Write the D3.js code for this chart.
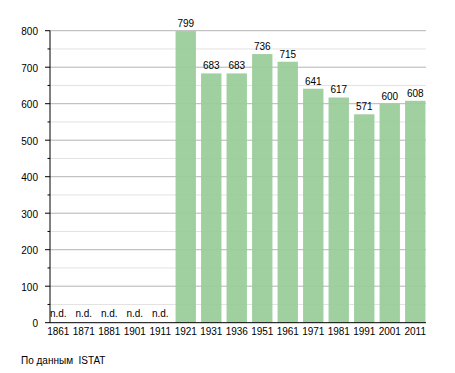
<!DOCTYPE html>
<html>
<head>
<meta charset="utf-8">
<script src="https://cdn.jsdelivr.net/npm/d3@7"></script>
<style>
  body { margin: 0; background: #fff; }
  text { font-family: "Liberation Sans", Arial, sans-serif; font-size: 10px; fill: #000; }
</style>
</head>
<body>
<script>
// population by census year, null = no data
const years = ["1861", "1871", "1881", "1901", "1911", "1921", "1931", "1936", "1951", "1961", "1971", "1981", "1991", "2001", "2011"];
const population = [null, null, null, null, null, 799, 683, 683, 736, 715, 641, 617, 571, 600, 608];
const yTicks = [0, 100, 200, 300, 400, 500, 600, 700, 800];
const yMinor = [50, 150, 250, 350, 450, 550, 650, 750];
const source = "По данным  ISTAT";

const svg = d3.select("body").append("svg").attr("width", 455).attr("height", 373);

const x = d3.scaleBand().domain(years).range([45.5, 428]).paddingInner(0.2).paddingOuter(0.1);
const y = d3.scaleLinear().domain([0, 800]).range([322.7, 30.7]);

const left = 50, right = 426;

// grid lines
svg.selectAll("line.minor")
    .data(yMinor)
    .enter().append("line")
      .attr("class", "minor")
      .attr("x1", left).attr("x2", right)
      .attr("y1", d => y(d)).attr("y2", d => y(d))
      .attr("stroke", "#e2e2e2");

svg.selectAll("line.major")
    .data(yTicks.slice(1))
    .enter().append("line")
      .attr("class", "major")
      .attr("x1", left).attr("x2", right)
      .attr("y1", d => y(d)).attr("y2", d => y(d))
      .attr("stroke", "#b4b4b4");

// bars
const data = years.map((d, i) => ({ year: d, value: population[i] }));

svg.selectAll("rect")
    .data(data.filter(d => d.value != null))
    .enter().append("rect")
      .attr("x", d => x(d.year))
      .attr("width", x.bandwidth())
      .attr("y", d => y(d.value))
      .attr("height", d => y(0) - y(d.value))
      .attr("fill", "#99cc99")
      .attr("fill-opacity", 0.93);

// value labels
svg.selectAll("text.val")
    .data(data)
    .enter().append("text")
      .attr("class", "val")
      .attr("x", d => x(d.year) + x.bandwidth() / 2)
      .attr("y", d => d.value == null ? y(0) - 6 : y(d.value) - 4)
      .attr("text-anchor", "middle")
      .text(d => d.value == null ? "n.d." : d.value);

// y axis
svg.append("line")
    .attr("x1", left).attr("x2", left)
    .attr("y1", y(800)).attr("y2", y(0))
    .attr("stroke", "#000");

svg.selectAll("line.ytick")
    .data(yTicks)
    .enter().append("line")
      .attr("class", "ytick")
      .attr("x1", 45).attr("x2", left)
      .attr("y1", d => y(d)).attr("y2", d => y(d))
      .attr("stroke", "#000");

svg.selectAll("line.yminor")
    .data(yMinor)
    .enter().append("line")
      .attr("class", "yminor")
      .attr("x1", 47.5).attr("x2", left)
      .attr("y1", d => y(d)).attr("y2", d => y(d))
      .attr("stroke", "#000");

svg.selectAll("text.ylab")
    .data(yTicks)
    .enter().append("text")
      .attr("class", "ylab")
      .attr("x", 38)
      .attr("y", d => y(d) + 4.5)
      .attr("text-anchor", "end")
      .text(d => d);

// x axis
svg.append("line")
    .attr("x1", left).attr("x2", right)
    .attr("y1", y(0)).attr("y2", y(0))
    .attr("stroke", "#000");

svg.selectAll("text.xlab")
    .data(years)
    .enter().append("text")
      .attr("class", "xlab")
      .attr("x", d => x(d) + x.bandwidth() / 2)
      .attr("y", 335)
      .attr("text-anchor", "middle")
      .text(d => d);

// source note
svg.append("text")
    .attr("x", 21)
    .attr("y", 364)
    .style("white-space", "pre")
    .text(source);
</script>
</body>
</html>
